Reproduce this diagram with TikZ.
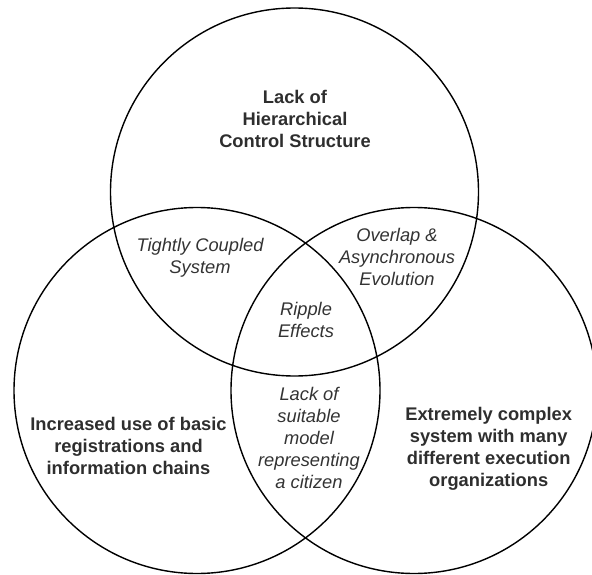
\documentclass[tikz,border=0pt]{standalone}
\usepackage{fontspec}
\setmainfont{Liberation Sans}
\begin{document}
\begin{tikzpicture}[x=1pt,y=-1pt,
  ring/.style={draw=black, line width=1.4pt, circle, inner sep=0pt, outer sep=0pt},
  mainlabel/.style={font=\fontsize{18.3}{22}\selectfont\bfseries, text=black!82,
    align=center, inner sep=0pt, anchor=north},
  overlaplabel/.style={font=\fontsize{18.3}{22}\selectfont\itshape, text=black!80,
    align=center, inner sep=0pt, anchor=north}]
\useasboundingbox (0,0) rectangle (592,575);
\clip (0,0) rectangle (592,575);

% the three sets
\node[ring, minimum size=368pt] (top)   at (294.5,192) {};
\node[ring, minimum size=366pt] (left)  at (197,390.5) {};
\node[ring, minimum size=366pt] (right) at (414,390.5) {};

% labels of the single sets
\node[mainlabel] (hier) at (295,90) {Lack of\\Hierarchical\\Control Structure};
\node[mainlabel] (reg) at (128.5,417) {Increased use of basic\\registrations and\\information chains};
\node[mainlabel] (exec) at (488.7,407) {Extremely complex\\system with many\\different execution\\organizations};

% labels of the overlaps
\node[overlaplabel] (coupled) at (200,238) {Tightly Coupled\\System};
\node[overlaplabel] (async) at (397,228) {Overlap \&\\Asynchronous\\Evolution};
\node[overlaplabel] (ripple) at (306,302) {Ripple\\Effects};
\node[overlaplabel] (citizen) at (309,387) {Lack of\\suitable\\model\\representing\\a citizen};
\end{tikzpicture}
\end{document}
